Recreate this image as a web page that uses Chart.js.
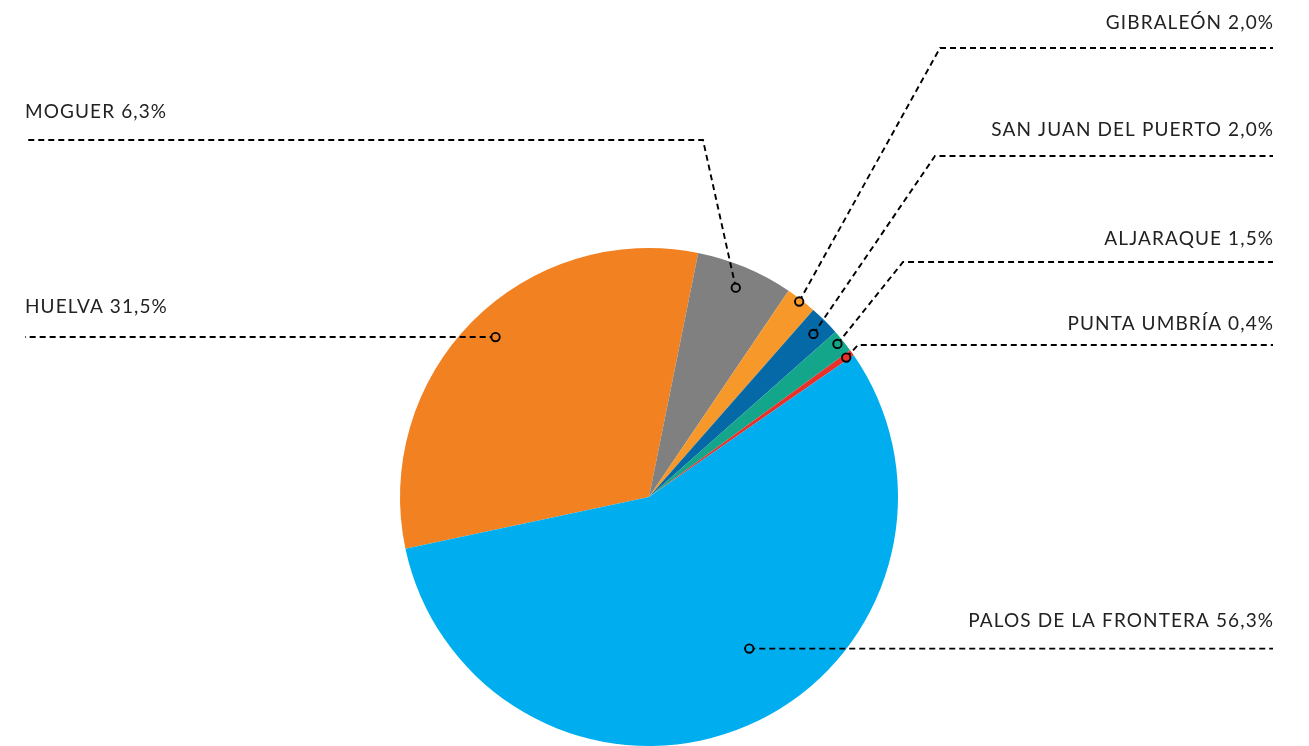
<!DOCTYPE html>
<html>
<head>
<meta charset="utf-8">
<script src="https://cdn.jsdelivr.net/npm/chart.js@4/dist/chart.umd.min.js"></script>
<style>
  html, body { margin: 0; padding: 0; background: #ffffff; }
  #wrap { width: 1309px; height: 746px; position: relative; }
</style>
</head>
<body>
<div id="wrap"><canvas id="c" width="1309" height="746"></canvas></div>
<script>
// ---- data ----
const categories = ["HUELVA", "MOGUER", "GIBRALEÓN", "SAN JUAN DEL PUERTO", "ALJARAQUE", "PUNTA UMBRÍA", "PALOS DE LA FRONTERA"];
const values = [31.5, 6.3, 2.0, 2.0, 1.5, 0.4, 56.3];
const valueLabels = ["31,5%", "6,3%", "2,0%", "2,0%", "1,5%", "0,4%", "56,3%"];
const colors = ["#F28121", "#808080", "#F7982A", "#0569A8", "#13A68A", "#E8312B", "#00AEEF"];

// ---- label layout (positions only) ----
const labelLayout = [
  { side: "left",  t: 0.513, r: 0.89, elbow: null,        lineY: 337, textY: 313 },
  { side: "left",  t: 0.49, r: 0.91, elbow: [703, 140],  lineY: 140, textY: 118 },
  { side: "right", t: 0.48, r: 0.99, elbow: [940, 48],   lineY: 48,  textY: 29 },
  { side: "right", t: 0.55, r: 0.93, elbow: [935, 156],  lineY: 156, textY: 136 },
  { side: "right", t: 0.45, r: 0.975, elbow: [903, 262], lineY: 262, textY: 245 },
  { side: "right", t: 0.6,  r: 0.97, elbow: [858, 345],  lineY: 345, textY: 330 },
  { side: "right", t: 0.45, r: 0.73, elbow: null,        lineY: null, textY: 627 }
];
const LEFT_X = 25, RIGHT_X = 1273;

const leaderPlugin = {
  id: "leaders",
  afterDatasetsDraw(chart) {
    const ctx = chart.ctx;
    const meta = chart.getDatasetMeta(0);
    ctx.save();
    meta.data.forEach((arc, i) => {
      const L = labelLayout[i];
      const p = arc.getProps(["x", "y", "startAngle", "endAngle", "outerRadius"], true);
      const a = p.startAngle + L.t * (p.endAngle - p.startAngle);
      const px = p.x + Math.cos(a) * p.outerRadius * L.r;
      const py = p.y + Math.sin(a) * p.outerRadius * L.r;
      const endX = L.side === "left" ? LEFT_X : RIGHT_X;
      ctx.strokeStyle = "#000";
      ctx.lineWidth = 1.9;
      ctx.setLineDash([6, 4]);
      ctx.beginPath();
      ctx.moveTo(px, py);
      if (L.elbow) {
        ctx.lineTo(L.elbow[0], L.elbow[1]);
        ctx.lineTo(endX, L.lineY);
      } else {
        const ly = L.lineY == null ? py : L.lineY;
        ctx.lineTo(px, ly);
        ctx.lineTo(endX, ly);
      }
      ctx.stroke();
      ctx.setLineDash([]);
      // marker
      ctx.beginPath();
      ctx.arc(px, py, 4.2, 0, Math.PI * 2);
      ctx.fillStyle = colors[i];
      ctx.fill();
      ctx.lineWidth = 1.9;
      ctx.stroke();
      // text
      ctx.fillStyle = "#222";
      ctx.font = "19px Lato, 'Open Sans', sans-serif";
      if ("letterSpacing" in ctx) ctx.letterSpacing = "1.1px";
      ctx.textBaseline = "alphabetic";
      ctx.textAlign = L.side === "left" ? "left" : "right";
      const txt = categories[i] + " " + valueLabels[i];
      const x = L.side === "left" ? endX : endX + 1.1;
      ctx.fillText(txt, x, L.textY);
      if ("letterSpacing" in ctx) ctx.letterSpacing = "0px";
    });
    ctx.restore();
  }
};

new Chart(document.getElementById("c"), {
  type: "pie",
  data: {
    labels: categories,
    datasets: [{ data: values, backgroundColor: colors, borderWidth: 0 }]
  },
  options: {
    responsive: false,
    animation: false,
    rotation: 258,
    layout: { padding: { top: 248, bottom: 0, left: 400, right: 411 } },
    plugins: { legend: { display: false }, tooltip: { enabled: false } }
  },
  plugins: [leaderPlugin]
});
</script>
</body>
</html>
